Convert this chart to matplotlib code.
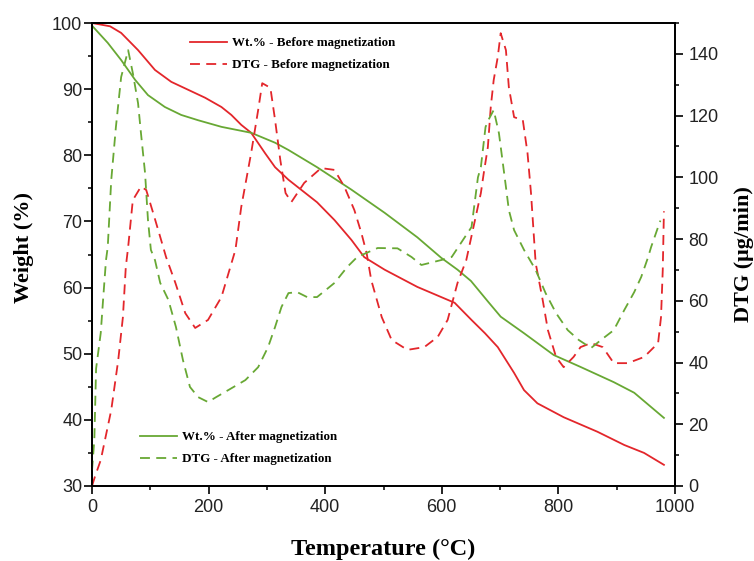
import matplotlib
matplotlib.use("Agg")
import matplotlib.pyplot as plt
from matplotlib.lines import Line2D
from matplotlib.ticker import MultipleLocator

# ---------------- data ----------------
wt_before_T = [0, 31, 50, 79, 108, 136, 165, 194, 222, 239, 256, 273, 297, 314, 337,
               386, 416, 445, 467, 502, 558, 622, 651, 674, 696, 724, 741, 764, 809,
               867, 913, 947, 981]
wt_before_W = [100, 99.5, 98.5, 95.9, 92.9, 91.1, 89.9, 88.7, 87.3, 86.1, 84.6, 83.4,
               80.3, 78.2, 76.3, 72.9, 70.2, 67.2, 64.6, 62.7, 60.1, 57.7, 55.1, 53.1,
               51.0, 47.1, 44.5, 42.5, 40.4, 38.2, 36.2, 35.0, 33.2]

wt_after_T = [0, 27, 50, 74, 96, 125, 153, 182, 222, 273, 314, 337, 386, 445, 502,
              558, 599, 627, 650, 680, 701, 741, 792, 838, 895, 930, 981]
wt_after_W = [99.6, 97, 94.4, 91.4, 89.1, 87.3, 86.1, 85.3, 84.3, 83.4, 81.9, 80.8,
              78.2, 74.8, 71.3, 67.6, 64.5, 62.7, 61.0, 57.8, 55.6, 53.1, 49.8, 48.0,
              45.7, 44.1, 40.3]

dtg_before_T = [0, 5, 15, 33, 45, 53, 58, 62, 70, 84, 93, 105, 117, 127, 143, 160, 177,
                199, 222, 246, 256, 273, 285, 292, 306, 314, 323, 332, 342, 364, 393,
                416, 433, 450, 462, 471, 479, 497, 514, 541, 570, 593, 610, 627, 642,
                667, 672, 679, 684, 689, 696, 701, 710, 715, 724, 739, 747, 753, 758,
                761, 773, 782, 796, 809, 826, 838, 856, 876, 895, 919, 947, 971, 976,
                979, 981]
dtg_before_D = [0, 3, 8.4, 24.6, 40.8, 54.7, 71, 77.4, 92.6, 97, 95.9, 88.4, 80.7, 74.2,
                65.8, 56, 51.2, 53.8, 61.2, 76.5, 90.4, 107.9, 121.8, 130.5, 129, 118.6,
                105.6, 94.9, 92, 98.2, 103, 102.4, 96.9, 89.4, 82, 75.5, 66.7, 54.7,
                47.3, 44.1, 45, 48.3, 53.8, 65.8, 73.2, 94.9, 101.4, 109.8, 122.8,
                131.5, 139, 146.7, 141.2, 129.2, 119.5, 118.5, 107.9, 94.9, 80.7, 72.2,
                60.3, 50.5, 41.8, 38.5, 41.8, 45, 46.3, 45, 39.8, 39.8, 41.8, 46.3,
                54.7, 70, 89]

dtg_after_T = [0, 4, 7, 15, 19, 24, 27, 33, 41, 50, 62, 70, 79, 84, 91, 96, 101, 108,
               117, 131, 144, 156, 168, 182, 199, 213, 234, 263, 285, 302, 314, 325,
               337, 352, 369, 386, 416, 438, 455, 490, 524, 548, 565, 599, 617, 651,
               662, 667, 675, 680, 689, 698, 704, 710, 715, 724, 741, 761, 778, 796,
               816, 835, 856, 873, 895, 913, 930, 942, 954, 959, 971, 975]
dtg_after_D = [5, 15, 38, 49.6, 60.3, 73.2, 77.4, 99.1, 116.3, 132.5, 141.2, 133.8, 124,
               114.3, 101.4, 86.2, 76.5, 73.2, 65.8, 60.3, 51.5, 40.8, 32.1, 28.8, 27.2,
               28.8, 31.1, 34.3, 38.5, 45, 51.5, 58, 62.5, 62.8, 61.2, 61.2, 65.8, 71,
               74.2, 77.1, 77, 74.2, 71.6, 73.2, 74.2, 83.9, 100, 103.3, 116.3, 118.6,
               121.8, 114.3, 105.6, 96.9, 89.4, 82.9, 76.5, 70, 62.5, 56, 50.5, 47.3,
               44.7, 47.3, 50.5, 57, 62.8, 67.7, 74.2, 77.4, 83.9, 86]

labels_before = ["Wt.% - Before magnetization", "DTG - Before magnetization"]
labels_after = ["Wt.% - After magnetization", "DTG - After magnetization"]

RED = "#e3262b"
GREEN = "#68a834"

# ---------------- figure ----------------
fig = plt.figure(figsize=(7.54, 5.61), dpi=100)
W, H = 754, 561
ax = fig.add_axes([92 / W, 1 - 486 / H, (675 - 92) / W, (486 - 23) / H])
ax2 = ax.twinx()

lw = 1.3
dash = (5.5, 3.5)
ax.plot(wt_before_T, wt_before_W, color=RED, lw=lw)
ax.plot(wt_after_T, wt_after_W, color=GREEN, lw=lw)
ax2.plot(dtg_before_T, dtg_before_D, color=RED, lw=lw, ls=(0, dash))
ax2.plot(dtg_after_T, dtg_after_D, color=GREEN, lw=lw, ls=(0, dash))

ax.set_xlim(0, 1000)
ax.set_ylim(30, 100)
ax2.set_ylim(0, 150)

ax.xaxis.set_major_locator(MultipleLocator(200))
ax.xaxis.set_minor_locator(MultipleLocator(100))
ax.yaxis.set_major_locator(MultipleLocator(10))
ax.yaxis.set_minor_locator(MultipleLocator(5))
ax2.yaxis.set_major_locator(MultipleLocator(20))
ax2.yaxis.set_minor_locator(MultipleLocator(10))

tick_font = "Liberation Sans"
tick_col = "#222222"
for a in (ax, ax2):
    for sp in a.spines.values():
        sp.set_linewidth(1.3)
    a.tick_params(which="major", direction="out", length=5.5, width=1.2,
                  labelsize=13, labelcolor=tick_col)
    a.tick_params(which="minor", direction="out", length=3, width=1.1)
ax.tick_params(axis="x", pad=4)
ax.tick_params(axis="y", pad=1.5)
ax2.tick_params(axis="y", pad=4)
for lab in ax.get_xticklabels() + ax.get_yticklabels() + ax2.get_yticklabels():
    lab.set_fontfamily(tick_font)

serif = "Liberation Serif"
ax.set_xlabel("Temperature (°C)", fontfamily=serif, fontweight="bold",
              fontsize=17.5, labelpad=16)
ax.set_ylabel("Weight (%)", fontfamily=serif, fontweight="bold",
              fontsize=16, labelpad=7)
ax.yaxis.set_label_coords(-0.1, 0.515)
ax2.set_ylabel("DTG (μg/min)", fontfamily=serif, fontweight="bold",
               fontsize=16, labelpad=11)

# ---------------- legends ----------------
h_before = [Line2D([], [], color=RED, lw=lw),
            Line2D([], [], color=RED, lw=lw, ls=(0, dash))]
h_after = [Line2D([], [], color=GREEN, lw=lw),
           Line2D([], [], color=GREEN, lw=lw, ls=(0, dash))]
leg_kw = dict(frameon=False, loc="upper left", borderpad=0, borderaxespad=0,
              handlelength=2.85, handletextpad=0.35, labelspacing=0.75,
              prop={"family": serif, "weight": "bold", "size": 9.4},
              bbox_transform=fig.transFigure)
leg1 = ax2.legend(h_before, labels_before, bbox_to_anchor=(190 / W, 1 - 37 / H), **leg_kw)
ax2.add_artist(leg1)
ax2.legend(h_after, labels_after, bbox_to_anchor=(140 / W, 1 - 431 / H), **leg_kw)

fig.savefig("out.png", dpi=100)
